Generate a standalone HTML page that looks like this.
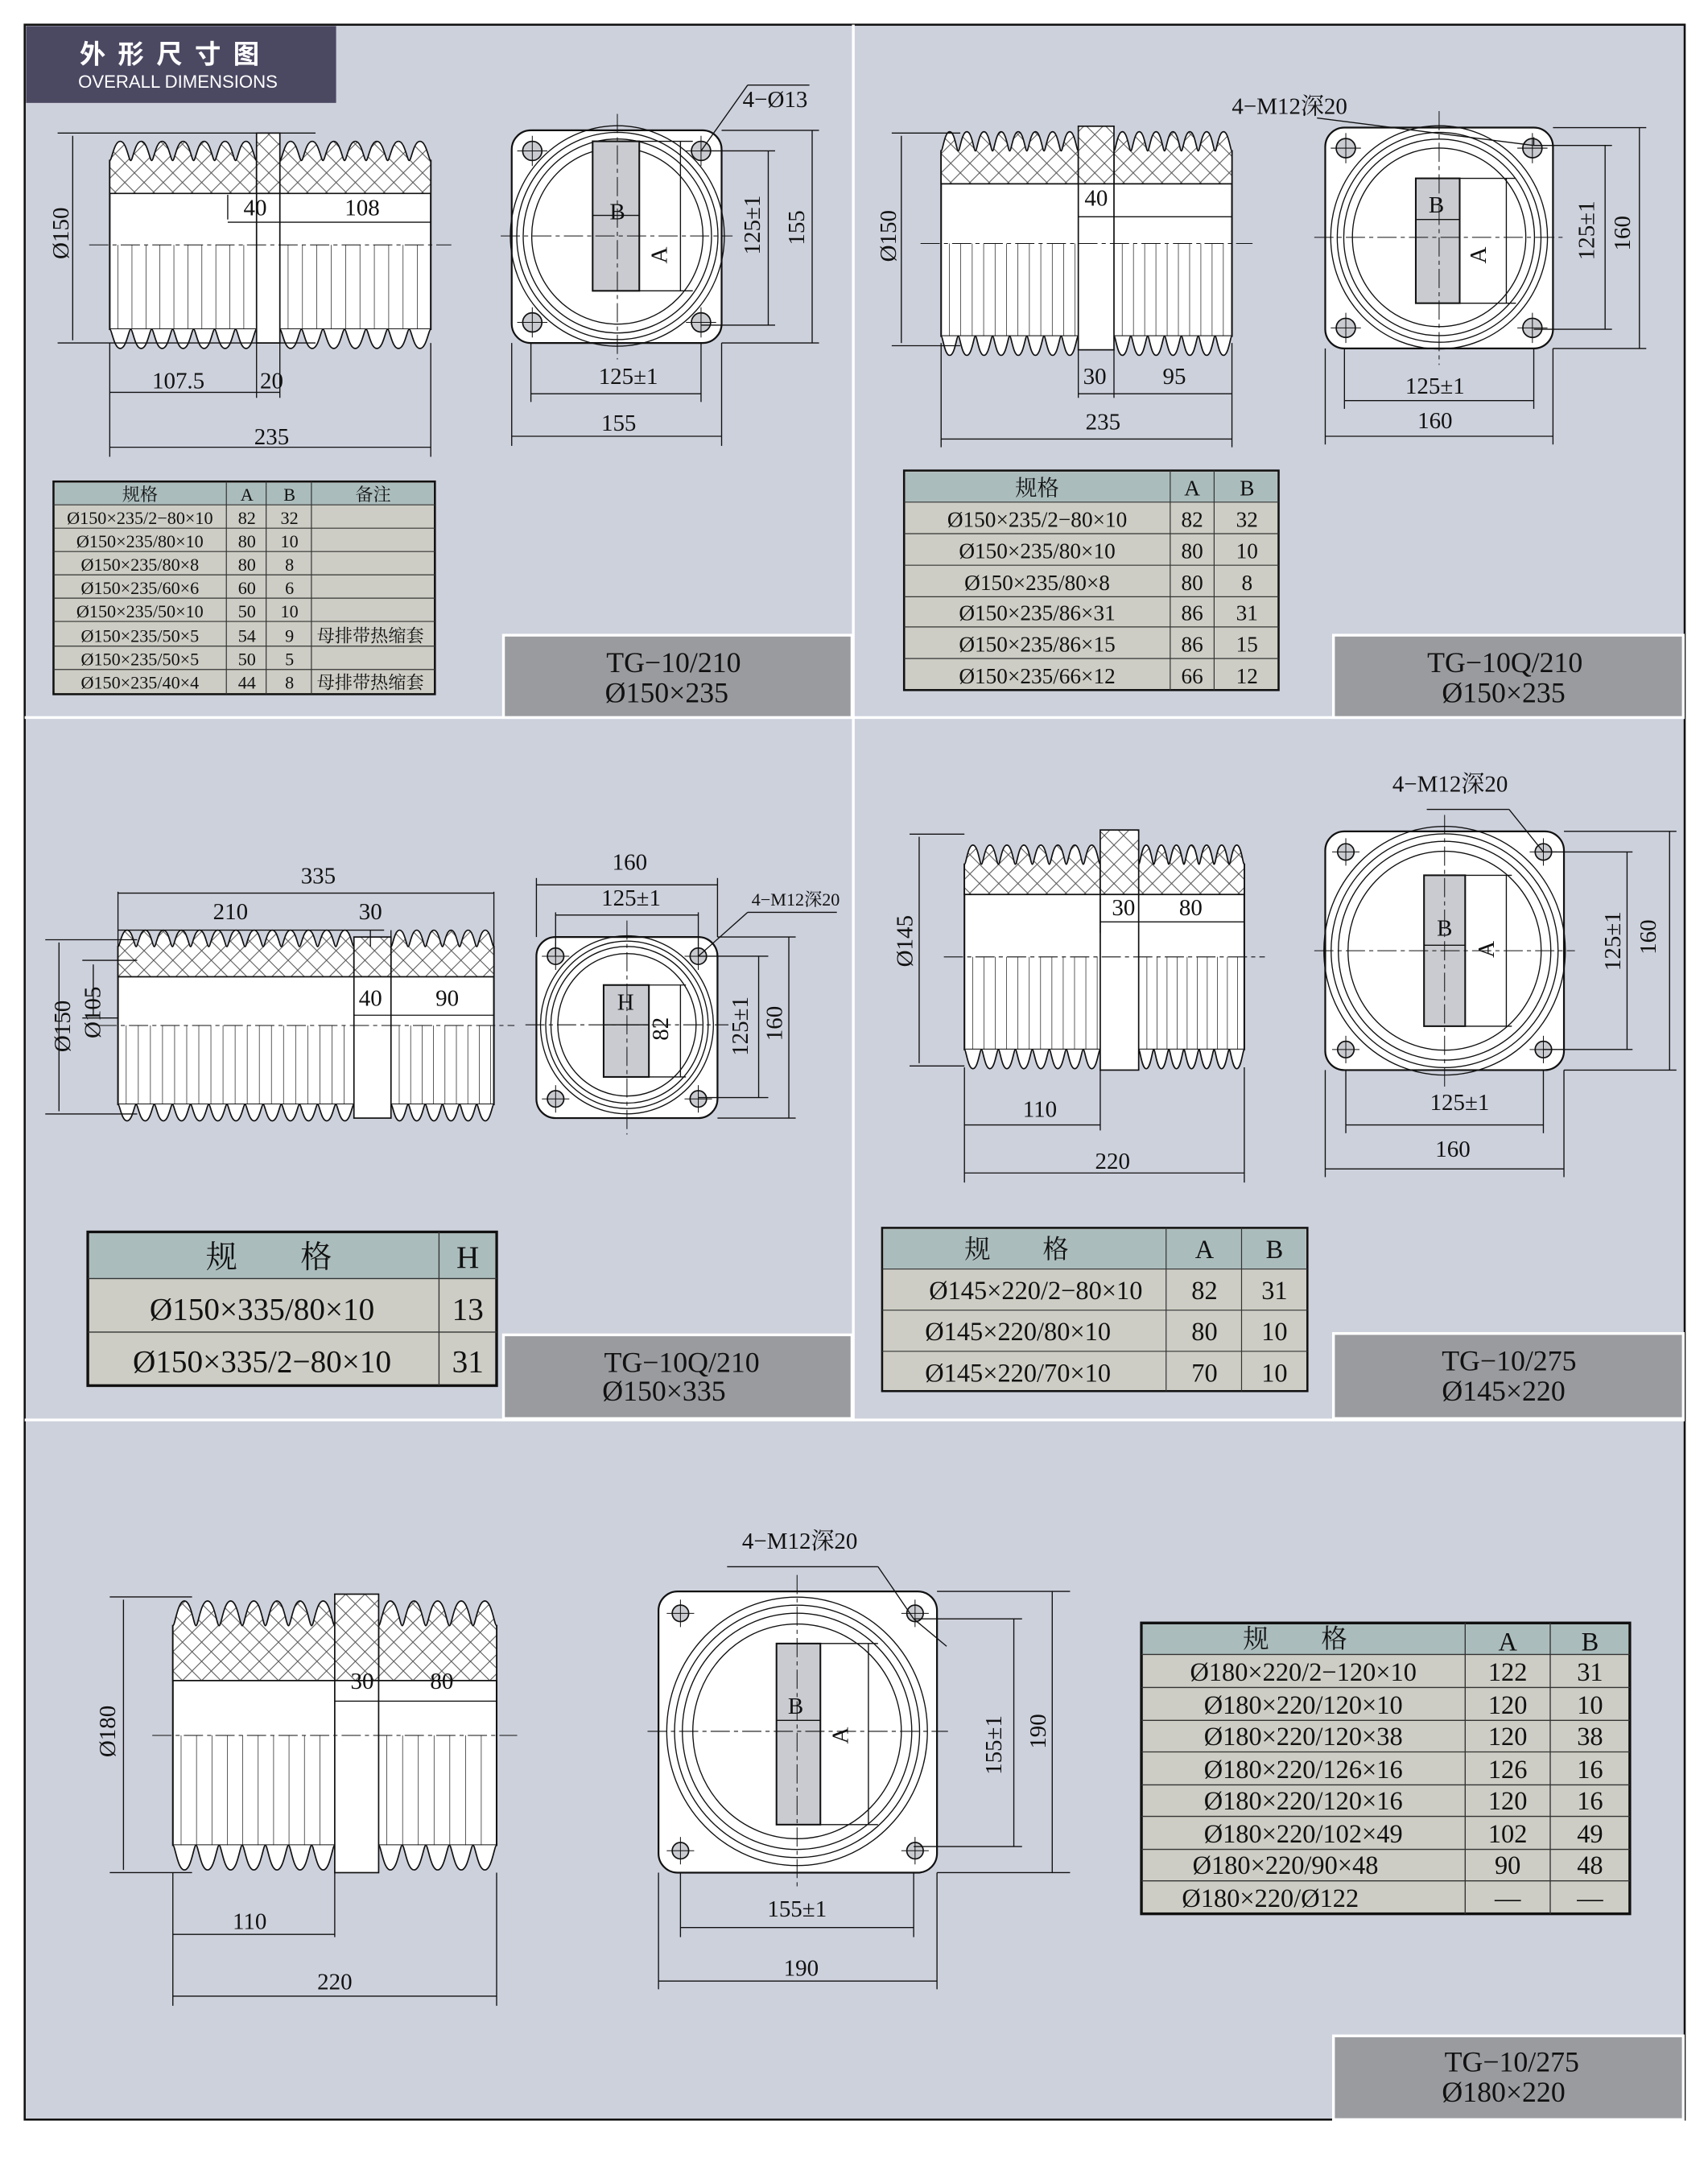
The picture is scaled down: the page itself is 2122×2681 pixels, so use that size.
<!DOCTYPE html>
<html><head><meta charset="utf-8"><style>
html,body{margin:0;padding:0;background:#fff}
svg{display:block}
text{font-family:"Liberation Serif","Noto Serif CJK SC",serif;fill:#111}
.t{font-size:17px}
.tb{font-size:13px}
.lb{font-size:21px;fill:#222}
</style></head><body>
<svg id="s" width="2122" height="2681" viewBox="0 0 1245 1573" preserveAspectRatio="none" xmlns="http://www.w3.org/2000/svg">
<defs>
<pattern id="hx" width="14" height="14" patternUnits="userSpaceOnUse">
<rect width="14" height="14" fill="#fff"/>
<path d="M0 0L14 14M14 0L0 14" stroke="#555" stroke-width="0.6"/>
</pattern>
</defs>
<rect width="1245" height="1573" fill="#fff"/>
<rect x="18" y="18" width="1210" height="1527" fill="#cdd1dc" stroke="#111" stroke-width="1.5"/>
<line x1="622" y1="18" x2="622" y2="1035" stroke="#fff" stroke-width="2"/>
<line x1="18" y1="523" x2="1228" y2="523" stroke="#fff" stroke-width="2"/>
<line x1="18" y1="1035" x2="1228" y2="1035" stroke="#fff" stroke-width="2"/>
<rect x="19" y="19" width="226" height="56" fill="#4b4862"/>
<text x="58" y="46" style="font-family:'Noto Sans CJK SC',sans-serif;font-size:19px;font-weight:bold;fill:#fff;letter-spacing:9px">外形尺寸图</text>
<text x="57" y="64" style="font-family:'Liberation Sans',sans-serif;font-size:13px;fill:#fff">OVERALL DIMENSIONS</text>
<g id="g"></g>

<!-- label boxes -->
<g stroke="#fff" stroke-width="2" fill="#9a9b9f">
<rect x="367" y="463" width="254" height="60"/>
<rect x="972" y="463" width="255" height="60"/>
<rect x="367" y="973" width="254" height="61"/>
<rect x="972" y="972" width="255" height="62"/>
<rect x="972" y="1484" width="255" height="61"/>
</g>
<g class="lb" text-anchor="middle">
<text x="491" y="490">TG−10/210</text><text x="486" y="512">Ø150×235</text>
<text x="1097" y="490">TG−10Q/210</text><text x="1096" y="512">Ø150×235</text>
<text x="497" y="1000">TG−10Q/210</text><text x="484" y="1021">Ø150×335</text>
<text x="1100" y="999">TG−10/275</text><text x="1096" y="1021">Ø145×220</text>
<text x="1102" y="1510">TG−10/275</text><text x="1096" y="1532">Ø180×220</text>
</g>

<!-- dimension texts -->
<g class="t" text-anchor="middle">
<text x="186" y="157">40</text><text x="264" y="157">108</text>
<text x="130" y="283">107.5</text><text x="198" y="283">20</text><text x="198" y="324">235</text>
<text x="46" y="174" transform="rotate(-90 46 170)">Ø150</text>
<text x="565" y="78">4−Ø13</text>
<text x="458" y="280">125±1</text><text x="451" y="314">155</text>
<text x="554" y="164" transform="rotate(-90 554 164)">125±1</text>
<text x="586" y="166" transform="rotate(-90 586 166)">155</text>
<text x="450" y="160">B</text><text x="486" y="186" transform="rotate(-90 486 186)">A</text>

<text x="799" y="150">40</text><text x="798" y="280">30</text><text x="856" y="280">95</text><text x="804" y="313">235</text>
<text x="649" y="176" transform="rotate(-90 649 172)">Ø150</text>
<text x="940" y="83">4−M12深20</text>
<text x="1046" y="287">125±1</text><text x="1046" y="312">160</text>
<text x="1162" y="168" transform="rotate(-90 1162 168)">125±1</text>
<text x="1188" y="170" transform="rotate(-90 1188 170)">160</text>
<text x="1047" y="155">B</text><text x="1083" y="186" transform="rotate(-90 1083 186)">A</text>

<text x="232" y="644">335</text><text x="168" y="670">210</text><text x="270" y="670">30</text>
<text x="270" y="733">40</text><text x="326" y="733">90</text>
<text x="47" y="752" transform="rotate(-90 47 748)">Ø150</text>
<text x="69" y="742" transform="rotate(-90 69 738)">Ø105</text>
<text x="459" y="634">160</text><text x="460" y="660">125±1</text>
<text x="580" y="660" style="font-size:13px">4−M12深20</text>
<text x="545" y="748" transform="rotate(-90 545 748)">125±1</text>
<text x="570" y="746" transform="rotate(-90 570 746)">160</text>
<text x="456" y="736">H</text><text x="487" y="750" transform="rotate(-90 487 750)">82</text>

<text x="819" y="667">30</text><text x="868" y="667">80</text>
<text x="758" y="814">110</text><text x="811" y="852">220</text>
<text x="661" y="690" transform="rotate(-90 661 686)">Ø145</text>
<text x="1057" y="577">4−M12深20</text>
<text x="1064" y="809">125±1</text><text x="1059" y="843">160</text>
<text x="1181" y="686" transform="rotate(-90 1181 686)">125±1</text>
<text x="1207" y="683" transform="rotate(-90 1207 683)">160</text>
<text x="1053" y="682">B</text><text x="1089" y="692" transform="rotate(-90 1089 692)">A</text>

<text x="264" y="1231">30</text><text x="322" y="1231">80</text>
<text x="182" y="1406">110</text><text x="244" y="1450">220</text>
<text x="80" y="1266" transform="rotate(-90 80 1262)">Ø180</text>
<text x="583" y="1129">4−M12深20</text>
<text x="581" y="1397">155±1</text><text x="584" y="1440">190</text>
<text x="730" y="1272" transform="rotate(-90 730 1272)">155±1</text>
<text x="762" y="1262" transform="rotate(-90 762 1262)">190</text>
<text x="580" y="1249">B</text><text x="618" y="1265" transform="rotate(-90 618 1265)">A</text>
</g>

<!-- Table 1 -->
<g>
<rect x="39" y="351" width="278" height="155" fill="#cdcdc5" stroke="#111" stroke-width="1.5"/>
<rect x="40" y="352" width="276" height="16" fill="#abbcbc"/>
<g stroke="#333" stroke-width="0.7">
<line x1="39" y1="368" x2="317" y2="368"/><line x1="39" y1="385" x2="317" y2="385"/><line x1="39" y1="402" x2="317" y2="402"/><line x1="39" y1="419" x2="317" y2="419"/><line x1="39" y1="436" x2="317" y2="436"/><line x1="39" y1="453" x2="317" y2="453"/><line x1="39" y1="471" x2="317" y2="471"/><line x1="39" y1="488" x2="317" y2="488"/>
<line x1="165" y1="351" x2="165" y2="506"/><line x1="194" y1="351" x2="194" y2="506"/><line x1="227" y1="351" x2="227" y2="506"/>
</g>
<g class="tb" text-anchor="middle">
<text x="102" y="365">规格</text><text x="180" y="365">A</text><text x="211" y="365">B</text><text x="272" y="365">备注</text>
<text x="102" y="382">Ø150×235/2−80×10</text><text x="180" y="382">82</text><text x="211" y="382">32</text>
<text x="102" y="399">Ø150×235/80×10</text><text x="180" y="399">80</text><text x="211" y="399">10</text>
<text x="102" y="416">Ø150×235/80×8</text><text x="180" y="416">80</text><text x="211" y="416">8</text>
<text x="102" y="433">Ø150×235/60×6</text><text x="180" y="433">60</text><text x="211" y="433">6</text>
<text x="102" y="450">Ø150×235/50×10</text><text x="180" y="450">50</text><text x="211" y="450">10</text>
<text x="102" y="468">Ø150×235/50×5</text><text x="180" y="468">54</text><text x="211" y="468">9</text><text x="270" y="468">母排带热缩套</text>
<text x="102" y="485">Ø150×235/50×5</text><text x="180" y="485">50</text><text x="211" y="485">5</text>
<text x="102" y="502">Ø150×235/40×4</text><text x="180" y="502">44</text><text x="211" y="502">8</text><text x="270" y="502">母排带热缩套</text>
</g>
</g>

<!-- Table 2 -->
<g>
<rect x="659" y="343" width="273" height="160" fill="#cdcdc5" stroke="#111" stroke-width="1.5"/>
<rect x="660" y="344" width="271" height="22" fill="#abbcbc"/>
<g stroke="#333" stroke-width="0.7">
<line x1="659" y1="366" x2="932" y2="366"/><line x1="659" y1="389" x2="932" y2="389"/><line x1="659" y1="412" x2="932" y2="412"/><line x1="659" y1="435" x2="932" y2="435"/><line x1="659" y1="457" x2="932" y2="457"/><line x1="659" y1="480" x2="932" y2="480"/>
<line x1="853" y1="343" x2="853" y2="503"/><line x1="885" y1="343" x2="885" y2="503"/>
</g>
<g class="t" text-anchor="middle" style="font-size:16px">
<text x="756" y="361">规格</text><text x="869" y="361">A</text><text x="909" y="361">B</text>
<text x="756" y="384">Ø150×235/2−80×10</text><text x="869" y="384">82</text><text x="909" y="384">32</text>
<text x="756" y="407">Ø150×235/80×10</text><text x="869" y="407">80</text><text x="909" y="407">10</text>
<text x="756" y="430">Ø150×235/80×8</text><text x="869" y="430">80</text><text x="909" y="430">8</text>
<text x="756" y="452">Ø150×235/86×31</text><text x="869" y="452">86</text><text x="909" y="452">31</text>
<text x="756" y="475">Ø150×235/86×15</text><text x="869" y="475">86</text><text x="909" y="475">15</text>
<text x="756" y="498">Ø150×235/66×12</text><text x="869" y="498">66</text><text x="909" y="498">12</text>
</g>
</g>

<!-- Table 3 -->
<g>
<rect x="64" y="898" width="298" height="112" fill="#cdcdc5" stroke="#111" stroke-width="2"/>
<rect x="65" y="899" width="296" height="33" fill="#abbcbc"/>
<g stroke="#333" stroke-width="0.8">
<line x1="64" y1="932" x2="362" y2="932"/><line x1="64" y1="971" x2="362" y2="971"/><line x1="320" y1="898" x2="320" y2="1010"/>
</g>
<g class="t" text-anchor="middle" style="font-size:23px">
<text x="196" y="924">规　　格</text><text x="341" y="924">H</text>
<text x="191" y="962">Ø150×335/80×10</text><text x="341" y="962">13</text>
<text x="191" y="1000">Ø150×335/2−80×10</text><text x="341" y="1000">31</text>
</g>
</g>

<!-- Table 4 -->
<g>
<rect x="643" y="895" width="310" height="119" fill="#cdcdc5" stroke="#111" stroke-width="1.5"/>
<rect x="644" y="896" width="308" height="29" fill="#abbcbc"/>
<g stroke="#333" stroke-width="0.7">
<line x1="643" y1="925" x2="953" y2="925"/><line x1="643" y1="955" x2="953" y2="955"/><line x1="643" y1="985" x2="953" y2="985"/>
<line x1="850" y1="895" x2="850" y2="1014"/><line x1="905" y1="895" x2="905" y2="1014"/>
</g>
<g class="t" text-anchor="middle" style="font-size:19px">
<text x="741" y="917">规　　格</text><text x="878" y="917">A</text><text x="929" y="917">B</text>
<text x="755" y="947">Ø145×220/2−80×10</text><text x="878" y="947">82</text><text x="929" y="947">31</text>
<text x="742" y="977">Ø145×220/80×10</text><text x="878" y="977">80</text><text x="929" y="977">10</text>
<text x="742" y="1007">Ø145×220/70×10</text><text x="878" y="1007">70</text><text x="929" y="1007">10</text>
</g>
</g>

<!-- Table 5 -->
<g>
<rect x="832" y="1183" width="356" height="212" fill="#cdcdc5" stroke="#111" stroke-width="2"/>
<rect x="833" y="1184" width="354" height="22" fill="#abbcbc"/>
<g stroke="#333" stroke-width="0.8">
<line x1="832" y1="1206" x2="1188" y2="1206"/><line x1="832" y1="1230" x2="1188" y2="1230"/><line x1="832" y1="1254" x2="1188" y2="1254"/><line x1="832" y1="1277" x2="1188" y2="1277"/><line x1="832" y1="1301" x2="1188" y2="1301"/><line x1="832" y1="1324" x2="1188" y2="1324"/><line x1="832" y1="1348" x2="1188" y2="1348"/><line x1="832" y1="1371" x2="1188" y2="1371"/>
<line x1="1068" y1="1183" x2="1068" y2="1395"/><line x1="1130" y1="1183" x2="1130" y2="1395"/>
</g>
<g class="t" text-anchor="middle" style="font-size:19px">
<text x="944" y="1201">规　　格</text><text x="1099" y="1203">A</text><text x="1159" y="1203">B</text>
<text x="950" y="1225">Ø180×220/2−120×10</text><text x="1099" y="1225">122</text><text x="1159" y="1225">31</text>
<text x="950" y="1249">Ø180×220/120×10</text><text x="1099" y="1249">120</text><text x="1159" y="1249">10</text>
<text x="950" y="1272">Ø180×220/120×38</text><text x="1099" y="1272">120</text><text x="1159" y="1272">38</text>
<text x="950" y="1296">Ø180×220/126×16</text><text x="1099" y="1296">126</text><text x="1159" y="1296">16</text>
<text x="950" y="1319">Ø180×220/120×16</text><text x="1099" y="1319">120</text><text x="1159" y="1319">16</text>
<text x="950" y="1343">Ø180×220/102×49</text><text x="1099" y="1343">102</text><text x="1159" y="1343">49</text>
<text x="937" y="1366">Ø180×220/90×48</text><text x="1099" y="1366">90</text><text x="1159" y="1366">48</text>
<text x="926" y="1390">Ø180×220/Ø122</text><text x="1099" y="1390">—</text><text x="1159" y="1390">—</text>
</g>
</g>
</svg>
<script>
const g=document.getElementById('g');let h='';
function L(x1,y1,x2,y2,w,d){h+=`<line x1="${x1}" y1="${y1}" x2="${x2}" y2="${y2}" stroke="#111" stroke-width="${w||0.8}"${d?' stroke-dasharray="'+d+'"':''}/>`;}
function fins(x0,x1,y,dir,n,dep){let p=`M${x0} ${y}`;let w=(x1-x0)/n;for(let i=0;i<n;i++){let a=x0+i*w;p+=` C${a+w*0.1} ${y} ${a+w*0.2} ${y-dir*dep} ${a+w*0.5} ${y-dir*dep} S${a+w*0.9} ${y} ${a+w} ${y}`;}return p;}
function bush(x0,x1,yt,yb,fx0,fx1,fy0,fy1,nL,nR,dep,hb){
 const cy=(yt+yb)/2;
 h+=`<rect x="${x0}" y="${yt}" width="${x1-x0}" height="${yb-yt}" fill="#fff" stroke="#111" stroke-width="1.2"/>`;
 h+=`<rect x="${x0}" y="${yt}" width="${x1-x0}" height="${hb}" fill="url(#hx)"/>`;
 h+=`<path d="${fins(x0,fx0,yt,1,nL,dep)} L${fx0} ${yt+hb} L${x0} ${yt+hb}Z" fill="url(#hx)" stroke="#111" stroke-width="1"/>`;
 h+=`<path d="${fins(fx1,x1,yt,1,nR,dep)} L${x1} ${yt+hb} L${fx1} ${yt+hb}Z" fill="url(#hx)" stroke="#111" stroke-width="1"/>`;
 h+=`<path d="${fins(x0,fx0,yb,-1,nL,dep)}" fill="#fff" stroke="#111" stroke-width="1"/>`;
 h+=`<path d="${fins(fx1,x1,yb,-1,nR,dep)}" fill="#fff" stroke="#111" stroke-width="1"/>`;
 h+=`<rect x="${fx0}" y="${fy0}" width="${fx1-fx0}" height="${yt+hb-fy0}" fill="url(#hx)" stroke="#111" stroke-width="1"/>`;
 h+=`<rect x="${fx0}" y="${yt+hb}" width="${fx1-fx0}" height="${fy1-yt-hb}" fill="#fff" stroke="#111" stroke-width="1"/>`;
 for(let x=x0+6;x<fx0-2;x+=(fx0-x0)/nL/1.5)L(x,cy,x,yb,0.4);
 for(let x=fx1+6;x<x1-2;x+=(x1-fx1)/nR/1.5)L(x,cy,x,yb,0.4);
 L(x0-15,cy,x1+15,cy,0.6,'14 3 3 3');
}
function fv(x0,y0,x1,y1,cx,cy,r,bx0,by0,bx1,by1,hr,ho){
 h+=`<rect x="${x0}" y="${y0}" width="${x1-x0}" height="${y1-y0}" rx="14" fill="#fff" stroke="#111" stroke-width="1.3"/>`;
 for(const k of [1,0.94,0.88,0.8])h+=`<ellipse cx="${cx}" cy="${cy}" rx="${r*k}" ry="${r*k*1.03}" fill="none" stroke="#111" stroke-width="0.8"/>`;
 h+=`<rect x="${bx0}" y="${by0}" width="${bx1-bx0}" height="${by1-by0}" fill="#c9cbd0" stroke="#111" stroke-width="1.2"/>`;
 for(const [px,py] of [[x0+ho,y0+ho],[x1-ho,y0+ho],[x0+ho,y1-ho],[x1-ho,y1-ho]]){h+=`<circle cx="${px}" cy="${py}" r="${hr}" fill="#c9cbd0" stroke="#111" stroke-width="1"/>`;L(px-hr-4,py,px+hr+4,py,0.6);L(px,py-hr-4,px,py+hr+4,0.6);}
 L(x0-8,cy,x1+8,cy,0.6,'14 3 3 3');L(cx,y0-12,cx,y1+12,0.6,'14 3 3 3');
}
bush(80,314,117,240,187,204,97,250,7,7,14,24);
L(42,97,230,97);L(42,250,230,250);L(53,99,53,248,0.8);
L(80,250,80,333);L(314,250,314,333);L(80,326,314,326);L(187,250,187,290);L(204,250,204,290);L(80,286,204,286);L(166,142,166,160);L(166,162,314,162);
fv(373,95,526,250,450,172,78,432,103,466,212,7,15);
L(432,157,466,157);L(466,103,505,103);L(466,212,505,212);L(496,103,496,212);
L(511,110,545,62);L(545,62,590,62);
L(387,250,387,293);L(511,250,511,293);L(387,287,511,287);L(373,250,373,325);L(526,250,526,325);L(373,318,526,318);
L(511,110,565,110);L(511,237,565,237);L(560,110,560,237);L(526,95,597,95);L(526,250,597,250);L(592,95,592,250);
bush(686,898,110,245,786,812,92,255,8,7,14,24);
L(650,97,700,97);L(650,252,700,252);L(657,99,657,250);
L(686,250,686,326);L(898,250,898,326);L(686,320,898,320);L(786,255,786,290);L(812,255,812,290);L(786,287,898,287);L(786,158,898,158);
fv(966,93,1132,254,1049,173,79,1032,130,1064,221,7,15);
L(1032,160,1064,160);L(1064,130,1105,130);L(1064,221,1105,221);L(1098,130,1098,221);
L(1118,106,1118,100);L(1118,106,960,86);
L(980,254,980,298);L(1118,254,1118,298);L(980,292,1118,292);L(966,254,966,324);L(1132,254,1132,324);L(966,318,1132,318);
L(1118,106,1175,106);L(1118,240,1175,240);L(1170,106,1170,240);L(1132,93,1200,93);L(1132,254,1200,254);L(1195,93,1195,254);
bush(86,360,690,805,258,285,683,815,13,6,12,22);
L(86,650,86,690);L(360,650,360,690);L(86,651,360,651);L(86,678,280,678);L(270,678,270,690);L(285,678,285,690);L(258,740,360,740);
L(33,685,100,685);L(33,812,100,812);L(43,687,43,810);L(60,700,100,700);L(60,742,86,742);L(68,703,68,740);
fv(391,683,523,815,457,747,63,440,718,473,785,6,14);
L(440,747,473,747);L(473,718,500,718);L(473,785,500,785);L(496,718,496,785);
L(391,683,391,640);L(523,683,523,640);L(391,645,523,645);L(405,697,405,665);L(509,697,509,665);L(405,667,509,667);
L(509,697,545,665);L(545,665,610,665);
L(509,697,560,697);L(509,800,560,800);L(553,697,553,800);L(523,683,580,683);L(523,815,580,815);L(575,683,575,815);
bush(703,907,630,765,802,830,605,780,8,7,14,22);
L(703,778,703,862);L(907,778,907,862);L(703,855,907,855);L(802,780,802,824);L(703,820,802,820);L(802,672,907,672);L(802,655,802,680);
L(663,608,703,608);L(663,777,703,777);L(670,610,670,775);
fv(966,606,1140,780,1053,693,88,1038,638,1068,748,6,15);
L(1038,689,1068,689);L(1068,638,1102,638);L(1068,748,1102,748);L(1098,638,1098,748);
L(1125,621,1100,590);L(1100,590,1040,590);
L(1125,621,1190,621);L(1125,765,1190,765);L(1186,621,1186,765);L(1140,606,1222,606);L(1140,780,1222,780);L(1217,606,1217,780);
L(981,780,981,826);L(1125,780,1125,826);L(981,820,1125,820);L(966,780,966,858);L(1140,780,1140,858);L(966,852,1140,852);
bush(126,362,1185,1345,244,276,1162,1365,7,5,18,40);
L(80,1164,140,1164);L(80,1365,140,1365);L(90,1166,90,1363);
L(126,1365,126,1462);L(362,1365,362,1462);L(126,1455,362,1455);L(244,1365,244,1412);L(126,1410,244,1410);L(244,1240,362,1240);
fv(480,1160,683,1365,581,1262,95,566,1198,598,1330,6,16);
L(566,1254,598,1254);L(598,1198,640,1198);L(598,1330,640,1330);L(633,1198,633,1330);
L(666,1180,640,1142);L(640,1142,530,1142);L(666,1180,690,1200);
L(496,1365,496,1412);L(666,1365,666,1412);L(496,1405,666,1405);L(480,1365,480,1450);L(683,1365,683,1450);L(480,1444,683,1444);
L(666,1180,745,1180);L(666,1346,745,1346);L(739,1180,739,1346);L(683,1160,780,1160);L(683,1365,780,1365);L(767,1160,767,1365);
g.innerHTML=h;
</script>
</body></html>
